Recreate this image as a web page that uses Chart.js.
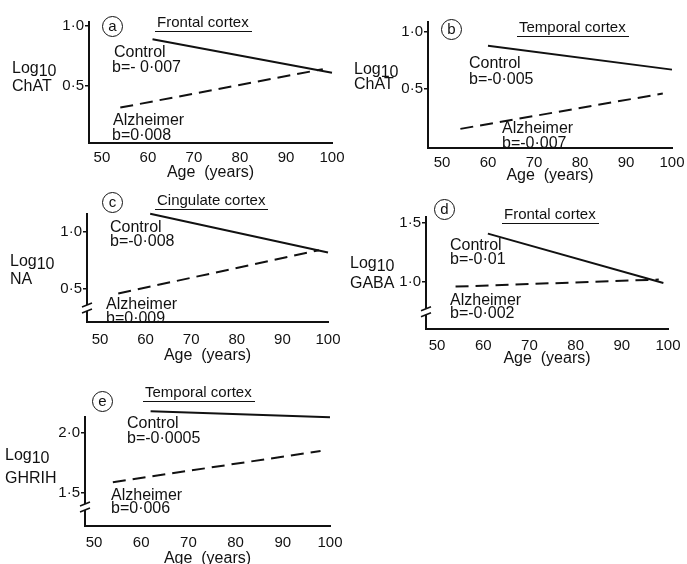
<!DOCTYPE html>
<html>
<head>
<meta charset="utf-8">
<script src="https://cdn.jsdelivr.net/npm/chart.js@4.4.0/dist/chart.umd.min.js"></script>
<style>
  body { margin:0; background:#fff; width:687px; height:564px; overflow:hidden; position:relative;
         font-family:"Liberation Sans", Arial, sans-serif; color:#111; }
  canvas { position:absolute; }
  .t { position:absolute; font-size:16px; line-height:18px; white-space:pre; }
  .ttl { position:absolute; font-size:15px; line-height:18px; white-space:pre; border-bottom:1.5px solid #111; padding:0 3px 0 2px; }
  .circ { position:absolute; width:19px; height:19px; border:1.6px solid #111; border-radius:50%;
          font-size:15px; line-height:18px; text-align:center; }
  .yl { position:absolute; font-size:16px; line-height:18px; white-space:pre; }
  .yl sub { font-size:16px; vertical-align:-3px; line-height:0; }
</style>
</head>
<body>
<script>
// values
var ageTicks = [50, 60, 70, 80, 90, 100];
var letters = ['a', 'b', 'c', 'd', 'e'];
var regions = ['Frontal cortex', 'Temporal cortex', 'Cingulate cortex', 'Frontal cortex', 'Temporal cortex'];
var measures = ['ChAT', 'ChAT', 'NA', 'GABA', 'GHRIH'];
var controlAge = [[61, 100], [60, 100], [61, 100], [61, 99], [62, 100]];
var controlLog = [[0.89, 0.61], [0.88, 0.67], [1.16, 0.82], [1.41, 0.99], [2.18, 2.13]];
var alzAge = [[54, 98], [54, 98], [54, 98], [54, 98], [54, 98]];
var alzLog = [[0.32, 0.64], [0.15, 0.46], [0.46, 0.84], [0.96, 1.02], [1.59, 1.85]];
var controlSlope = ['b=- 0·007', 'b=-0·005', 'b=-0·008', 'b=-0·01', 'b=-0·0005'];
var alzSlope = ['b=0·008', 'b=-0·007', 'b=0·009', 'b=-0·002', 'b=0·006'];
var yTicks = [[0.5, 1.0], [0.5, 1.0], [0.5, 1.0], [1.0, 1.5], [1.5, 2.0]];

// where each panel sits on the page
var panels = [
  {left:89,  right:332, top:22,  bottom:143, xMin:47.2,  yMin:0.025, yMax:1.033, tickY:157, titleY:172},
  {left:428, right:672, top:22,  bottom:148, xMin:46.96, yMin:-0.018, yMax:1.088, tickY:162, titleY:175},
  {left:87,  right:328, top:214, bottom:322, xMin:47.15, yMin:0.21,  yMax:1.158, tickY:339, titleY:355, brk:0.333},
  {left:426, right:668, top:217, bottom:329, xMin:47.6,  yMin:0.60,  yMax:1.551, tickY:345, titleY:358, brk:0.746},
  {left:85,  right:330, top:417, bottom:526, xMin:48.1,  yMin:1.225, yMax:2.133, tickY:542, titleY:558, brk:1.383}
];
var labelPos = [
  {circle:[113,27],  title:[155,22],  ctrl:[114,52],  ctrlB:[112,67],  alz:[113,120], alzB:[112,135], ylab:[12,68,86]},
  {circle:[452,30],  title:[517,27],  ctrl:[469,63],  ctrlB:[469,79],  alz:[502,128], alzB:[502,143], ylab:[354,69,84]},
  {circle:[113,203], title:[155,200], ctrl:[110,227], ctrlB:[110,241], alz:[106,304], alzB:[106,318], ylab:[10,261,279]},
  {circle:[445,210], title:[502,214], ctrl:[450,245], ctrlB:[450,259], alz:[450,300], alzB:[450,313], ylab:[350,263,283]},
  {circle:[103,402], title:[143,392], ctrl:[127,423], ctrlB:[127,438], alz:[111,495], alzB:[111,508], ylab:[5,455,478]}
];

var ink = '#111';
var YW = 45, XH = 45, PT = 12, PR = 25;

function addText(cls, x, y, html) {
  var d = document.createElement('div');
  d.className = cls;
  d.style.left = x + 'px';
  d.style.top = (y - 9) + 'px';
  d.innerHTML = html;
  document.body.appendChild(d);
  return d;
}

// axis break marks
var breakPlugin = {
  id: 'brk',
  afterDraw: function(chart, args, opts) {
    if (opts.value == null) return;
    var ctx = chart.ctx;
    var x = chart.chartArea.left;
    var y = chart.scales.y.getPixelForValue(opts.value);
    ctx.save();
    ctx.fillStyle = '#fff';
    ctx.fillRect(x - 3, y - 3, 6, 6);
    ctx.strokeStyle = ink;
    ctx.lineWidth = 1.5;
    ctx.beginPath();
    ctx.moveTo(x - 5, y - 1); ctx.lineTo(x + 5, y - 5);
    ctx.moveTo(x - 5, y + 5); ctx.lineTo(x + 5, y + 1);
    ctx.stroke();
    ctx.restore();
  }
};

function fmt(v) { return v.toFixed(1).replace('.', '·'); }

panels.forEach(function(p, i) {
  var cv = document.createElement('canvas');
  var w = p.right - p.left + YW + PR;
  var h = p.bottom - p.top + PT + XH;
  cv.width = w; cv.height = h;
  cv.style.left = (p.left - YW) + 'px';
  cv.style.top = (p.top - PT) + 'px';
  cv.style.width = w + 'px'; cv.style.height = h + 'px';
  document.body.appendChild(cv);

  var ctrl = controlAge[i].map(function(a, k) { return {x:a, y:controlLog[i][k]}; });
  var alz = alzAge[i].map(function(a, k) { return {x:a, y:alzLog[i][k]}; });

  new Chart(cv, {
    type: 'scatter',
    data: {
      datasets: [
        {label:'Control', data:ctrl, showLine:true, borderColor:ink, borderWidth:2, pointRadius:0, clip:false},
        {label:'Alzheimer', data:alz, showLine:true, borderColor:ink, borderWidth:2, borderDash:[13, 7], pointRadius:0, clip:false}
      ]
    },
    options: {
      responsive: false,
      animation: false,
      devicePixelRatio: 1,
      layout: { padding: {top:PT, right:PR, left:0, bottom:0} },
      plugins: { legend:{display:false}, tooltip:{enabled:false}, brk:{value:p.brk} },
      scales: {
        x: {
          type: 'linear', min: p.xMin, max: 100,
          afterBuildTicks: function(s) { s.ticks = ageTicks.map(function(v) { return {value:v}; }); },
          afterFit: function(s) { s.height = XH; },
          grid: { display:false, drawTicks:false, tickLength:0 },
          border: { display:true, color:ink, width:2 },
          ticks: { color:ink, padding:p.tickY - p.bottom - 8, maxRotation:0, autoSkip:false,
                   font:{family:'Liberation Sans', size:15} },
          title: { display:true, text:'Age  (years)', color:ink,
                   font:{family:'Liberation Sans', size:16},
                   padding:{top:0, bottom:p.bottom + XH - p.titleY - 10} }
        },
        y: {
          min: p.yMin, max: p.yMax,
          afterBuildTicks: function(s) { s.ticks = yTicks[i].map(function(v) { return {value:v}; }); },
          afterFit: function(s) { s.width = YW; },
          grid: { display:true, drawOnChartArea:false, drawTicks:true, tickLength:4, color:ink, lineWidth:1.5 },
          border: { display:true, color:ink, width:2 },
          ticks: { color:ink, padding:1, autoSkip:false, callback:function(v) { return fmt(v); },
                   font:{family:'Liberation Sans', size:15} }
        }
      }
    },
    plugins: [breakPlugin]
  });

  var L = labelPos[i];
  var c = addText('circ', L.circle[0] - 11, L.circle[1], letters[i]);
  c.style.top = (L.circle[1] - 11) + 'px';
  addText('ttl', L.title[0], L.title[1], regions[i]);
  addText('t', L.ctrl[0], L.ctrl[1], 'Control');
  addText('t', L.ctrlB[0], L.ctrlB[1], controlSlope[i]);
  addText('t', L.alz[0], L.alz[1], 'Alzheimer');
  addText('t', L.alzB[0], L.alzB[1], alzSlope[i]);
  addText('yl', L.ylab[0], L.ylab[1], 'Log<sub>10</sub>');
  addText('yl', L.ylab[0], L.ylab[2], measures[i]);
});
</script>
</body>
</html>
